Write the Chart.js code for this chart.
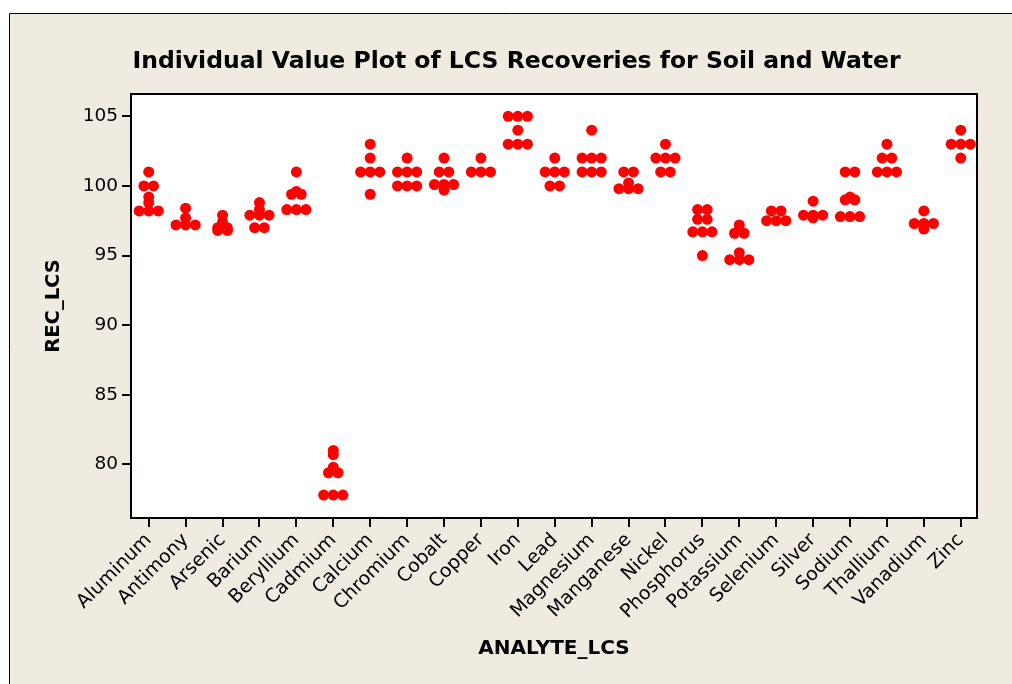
<!DOCTYPE html>
<html>
<head>
<meta charset="utf-8">
<script src="https://cdn.jsdelivr.net/npm/chart.js@4.4.1/dist/chart.umd.min.js"></script>
<style>
html,body{margin:0;padding:0;background:#fff}
canvas{display:block}
</style>
</head>
<body>
<canvas id="plot" width="1012" height="684"></canvas>
<script>
var analytes = ["Aluminum","Antimony","Arsenic","Barium","Beryllium","Cadmium","Calcium","Chromium",
	"Cobalt","Copper","Iron","Lead","Magnesium","Manganese","Nickel","Phosphorus","Potassium",
	"Selenium","Silver","Sodium","Thallium","Vanadium","Zinc"]
var yTicks = [80,85,90,95,100,105]

var aluminum = [101,100,100,99.2,98.8,98.2,98.2,98.2]
var antimony = [98.4,97.7,97.2,97.2,97.2]
var arsenic = [97.9,97.4,97.0,97.0,96.8,96.8]
var barium = [98.8,98.3,97.9,97.9,97.9,97.0,97.0]
var beryllium = [101,99.6,99.4,99.4,98.3,98.3,98.3]
var cadmium = [81.0,80.7,79.8,79.4,79.4,77.8,77.8,77.8]
var calcium = [103,102,101,101,101,99.4]
var chromium = [102,101,101,101,100,100,100]
var cobalt = [102,101,101,100.1,100.1,100.1,99.7]
var copper = [102,101,101,101]
var iron = [105,105,105,104,103,103,103]
var lead = [102,101,101,101,100,100]
var magnesium = [104,102,102,102,101,101,101]
var manganese = [101,101,100.2,99.8,99.8,99.8]
var nickel = [103,102,102,102,101,101]
var phosphorus = [98.3,98.3,97.6,97.6,96.7,96.7,96.7,95.0]
var potassium = [97.2,96.6,96.6,95.2,94.7,94.7,94.7]
var selenium = [98.2,98.2,97.5,97.5,97.5]
var silver = [98.9,97.9,97.9,97.9,97.7]
var sodium = [101,101,99.2,99.0,99.0,97.8,97.8,97.8]
var thallium = [103,102,102,101,101,101]
var vanadium = [98.2,97.3,97.3,97.3,96.9]
var zinc = [104,103,103,103,102]

var recov = [aluminum,antimony,arsenic,barium,beryllium,cadmium,calcium,chromium,cobalt,copper,
	iron,lead,magnesium,manganese,nickel,phosphorus,potassium,selenium,silver,sodium,thallium,vanadium,zinc]

// points de meme valeur poses cote a cote
function points(){
	var pts = []
	for(var i=0;i<recov.length;i++){
		var compte = {}, vu = {}
		recov[i].forEach(v => compte[v] = (compte[v]||0)+1)
		recov[i].forEach(v => {
			var n = compte[v], k = vu[v]||0
			vu[v] = k+1
			pts.push({x: i + (k-(n-1)/2)*0.26, y: v})
		})
	}
	return pts
}

var fond = {
	id: "fond",
	beforeDraw(c){
		var ctx = c.ctx, a = c.chartArea
		ctx.save()
		ctx.fillStyle = "#fff"
		ctx.fillRect(0,0,c.width,c.height)
		ctx.fillStyle = "#EFEBE1"
		ctx.fillRect(9,13,c.width-9,c.height-13)
		ctx.strokeStyle = "#000"
		ctx.lineWidth = 1
		ctx.beginPath()
		ctx.moveTo(9.5,c.height)
		ctx.lineTo(9.5,13.5)
		ctx.lineTo(c.width,13.5)
		ctx.stroke()
		ctx.fillStyle = "#fff"
		ctx.fillRect(a.left,a.top,a.right-a.left,a.bottom-a.top)
		ctx.restore()
	},
	afterDraw(c){
		var ctx = c.ctx, a = c.chartArea
		ctx.save()
		ctx.strokeStyle = "#000"
		ctx.lineWidth = 2
		ctx.strokeRect(a.left,a.top,a.right-a.left,a.bottom-a.top)
		ctx.restore()
	}
}

Chart.defaults.font.family = '"DejaVu Sans", sans-serif'
Chart.defaults.color = "#000"

new Chart("plot", {
	type: "scatter",
	data: {datasets: [{data: points(), backgroundColor: "#FF0000", borderWidth: 0, pointRadius: 5.5, pointHoverRadius: 5.5}]},
	options: {
		responsive: false,
		animation: false,
		events: [],
		layout: {padding: {left: 56, right: 35, top: 0, bottom: 0}},
		plugins: {
			legend: {display: false},
			tooltip: {enabled: false},
			title: {display: true, text: "Individual Value Plot of LCS Recoveries for Soil and Water",
				font: {size: 23.5, weight: "bold"}, padding: {top: 48, bottom: 17.8}, color: "#000"}
		},
		scales: {
			x: {
				type: "linear", min: -0.48, max: 22.44,
				afterBuildTicks: s => { s.ticks = analytes.map((a,i) => ({value: i})) },
				afterFit: s => { s.height = 166 },
				ticks: {autoSkip: false, minRotation: 45, maxRotation: 45, padding: 2,
					font: {size: 19}, callback: v => analytes[v]},
				grid: {drawOnChartArea: false, tickLength: 9, color: "#000", lineWidth: 2},
				border: {color: "#000", width: 2},
				title: {display: true, text: "ANALYTE_LCS", font: {size: 20, weight: "bold"}, padding: {top: 0, bottom: 23}}
			},
			y: {
				min: 76.15, max: 106.6,
				afterBuildTicks: s => { s.ticks = yTicks.map(v => ({value: v})) },
				afterFit: s => { s.width = 75 },
				ticks: {padding: 4, font: {size: 18.5}},
				grid: {drawOnChartArea: false, tickLength: 9, color: "#000", lineWidth: 2},
				border: {color: "#000", width: 2},
				title: {display: true, text: "REC_LCS", font: {size: 19.5, weight: "bold"}, padding: {top: -14, bottom: 0}}
			}
		}
	},
	plugins: [fond]
})
</script>
</body>
</html>
